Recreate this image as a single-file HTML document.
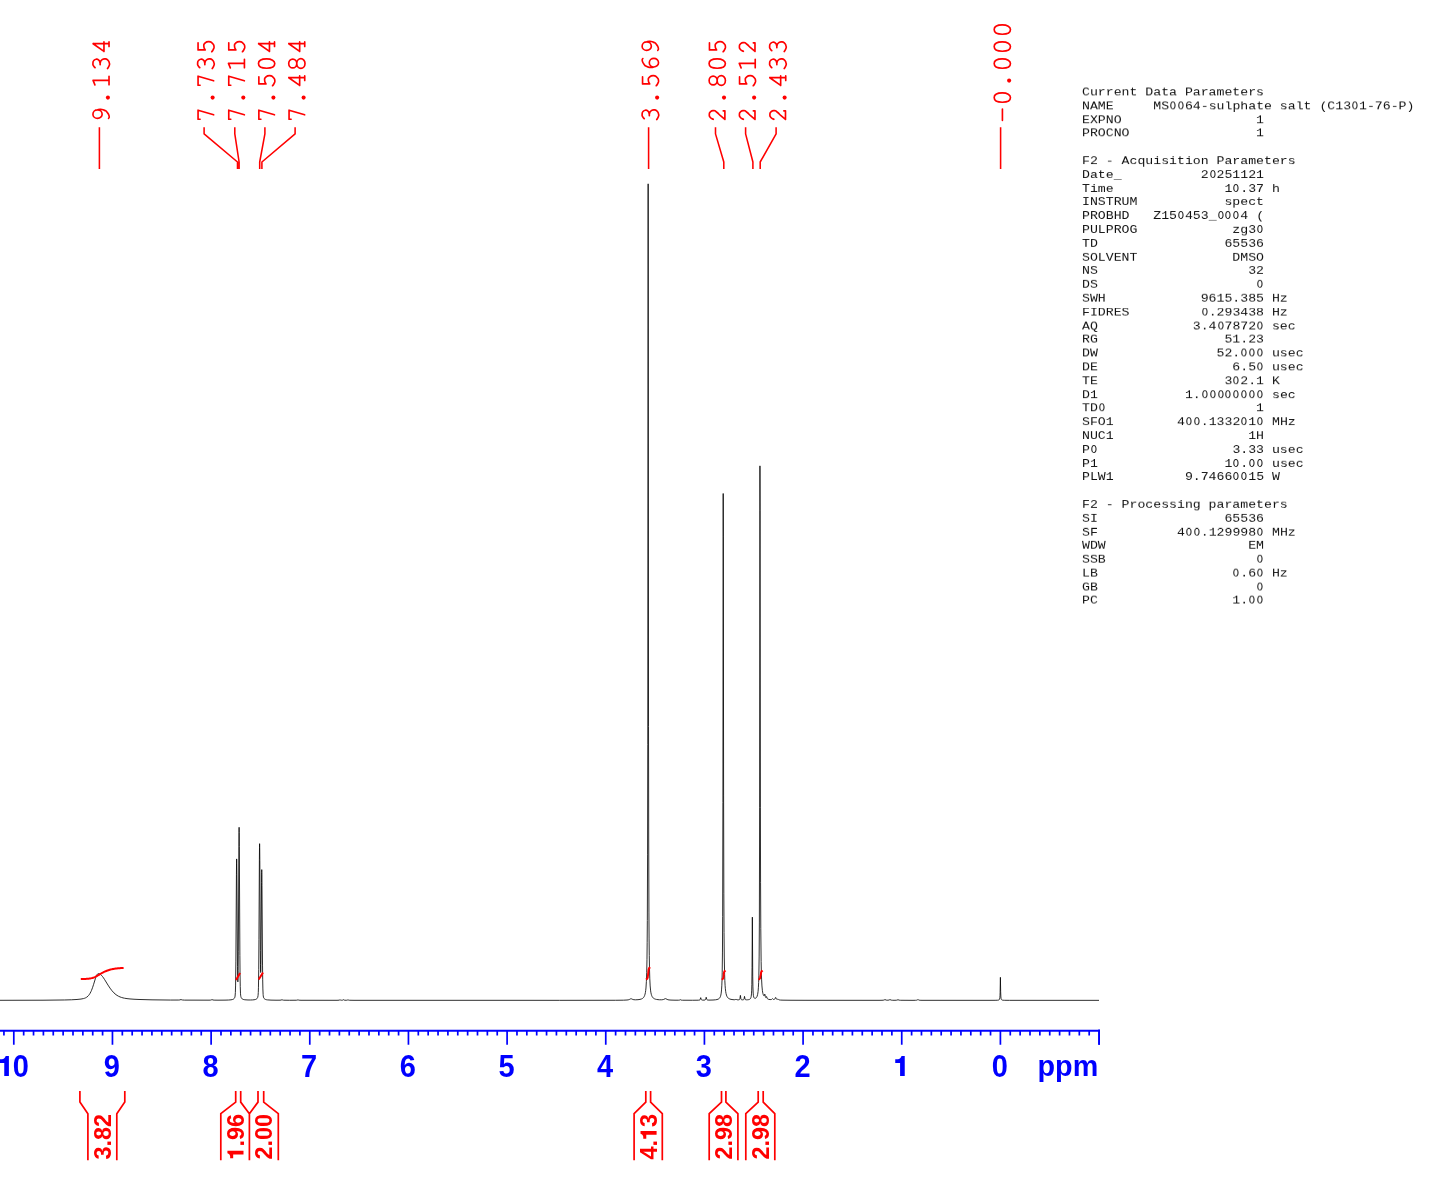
<!DOCTYPE html>
<html><head><meta charset="utf-8"><title>NMR 1H spectrum</title>
<style>
html,body{margin:0;padding:0;background:#fff;}
body{width:1445px;height:1180px;position:relative;overflow:hidden;font-family:"Liberation Sans",sans-serif;}
svg{position:absolute;left:0;top:0;will-change:transform;}
.ax{font-family:"Liberation Sans",sans-serif;font-weight:bold;font-size:30.4px;fill:#0000ff;}
.pk{font-family:"Liberation Mono",monospace;font-size:28.3px;fill:#ff0000;}
.it{font-family:"Liberation Sans",sans-serif;font-weight:bold;font-size:23.5px;fill:#ff0000;}
pre{position:absolute;left:1081.8px;top:85.6px;margin:0;will-change:transform;font-family:"Liberation Mono",monospace;font-size:13.2px;line-height:15.797px;color:#111;letter-spacing:0px;transform:translateY(-0.2px) scaleY(0.87);transform-origin:0 0;}
.z{display:inline-block;transform:scaleX(0.8);}
</style></head>
<body>
<svg width="1445" height="1180" viewBox="0 0 1445 1180">
<path d="M0.00 1000.30 43.00 1000.21 64.50 999.98 71.50 999.78 77.00 999.47 81.00 999.06 83.50 998.57 84.50 998.27 85.50 997.87 86.50 997.32 87.00 996.98 88.00 996.11 88.50 995.57 89.50 994.24 90.00 993.43 91.00 991.49 91.50 990.36 92.50 987.74 93.50 984.70 95.50 978.20 96.50 975.59 97.00 974.67 97.50 974.03 98.00 973.67 98.50 973.54 99.00 973.58 99.50 973.77 100.50 974.42 101.50 975.36 102.50 976.53 103.50 977.89 104.50 979.40 108.00 985.09 110.00 988.12 112.00 990.76 114.00 992.93 115.00 993.85 116.00 994.65 117.00 995.35 118.50 996.22 120.00 996.91 121.50 997.45 123.00 997.88 124.50 998.21 127.00 998.61 130.00 998.94 134.00 999.24 139.00 999.48 152.00 999.84 170.50 1000.05 178.80 1000.04 179.90 999.91 181.00 999.52 181.90 999.86 182.40 999.98 184.50 1000.11 209.00 1000.17 210.20 1000.13 210.90 1000.04 211.30 999.90 212.00 999.50 212.90 999.98 214.10 1000.14 218.00 1000.18 225.00 1000.13 228.50 1000.02 231.03 999.82 232.61 999.49 233.19 999.26 233.67 998.97 234.20 998.47 234.61 997.83 234.89 997.09 235.09 996.10 235.37 992.54 235.57 985.96 235.88 961.11 236.43 874.74 236.54 863.17 236.65 858.91 236.75 862.20 236.86 872.90 237.50 966.64 237.74 980.42 237.86 981.86 237.98 979.80 238.15 970.31 238.32 951.86 238.88 846.17 238.99 832.24 239.10 827.29 239.21 832.47 239.32 846.64 239.89 955.40 240.06 974.43 240.25 986.58 240.48 993.21 240.63 995.14 240.82 996.41 241.12 997.43 241.57 998.26 242.16 998.88 242.92 999.31 243.76 999.58 244.84 999.77 248.00 999.97 250.50 999.99 252.50 999.92 254.04 999.78 255.20 999.57 255.86 999.35 256.41 999.07 256.86 998.71 257.24 998.26 257.55 997.72 257.78 997.10 258.09 995.38 258.29 992.53 258.45 987.79 258.72 969.69 258.95 939.26 259.39 859.79 259.50 847.60 259.60 843.67 259.71 848.09 259.82 860.60 260.35 950.65 260.49 964.66 260.62 971.38 260.70 972.52 260.79 971.13 260.97 960.16 261.54 882.33 261.65 872.55 261.76 869.62 261.87 874.28 261.98 885.50 262.53 965.10 262.70 979.82 262.88 988.96 263.11 994.41 263.25 995.93 263.44 997.03 263.73 997.87 264.15 998.53 264.70 999.05 265.41 999.42 266.29 999.69 267.43 999.88 271.00 1000.12 276.00 1000.21 280.00 1000.20 281.10 1000.07 282.00 999.66 282.80 1000.04 283.60 1000.19 289.50 1000.27 296.30 1000.23 297.10 1000.14 298.00 999.79 298.70 1000.08 299.10 1000.18 301.00 1000.28 337.00 1000.30 339.00 1000.19 339.40 1000.06 340.00 999.70 340.60 1000.05 340.90 1000.15 341.50 1000.22 342.30 1000.20 342.80 1000.09 343.50 999.70 344.20 1000.10 345.00 1000.24 346.20 1000.25 347.00 1000.19 347.40 1000.06 348.00 999.71 348.70 1000.11 349.30 1000.24 354.00 1000.32 559.50 1000.33 615.50 1000.27 623.50 1000.18 627.00 1000.01 628.10 999.86 628.90 999.66 629.50 999.42 630.60 998.82 631.00 998.73 631.50 998.84 632.80 999.46 633.90 999.71 635.50 999.80 638.00 999.69 640.00 999.39 641.50 998.95 642.15 998.65 642.69 998.31 643.17 997.91 643.61 997.43 644.17 996.57 644.65 995.48 645.07 994.08 645.41 992.46 645.71 990.43 645.97 987.98 646.39 981.54 646.71 972.58 646.97 959.69 647.17 942.71 647.33 920.45 647.57 854.89 647.75 744.74 648.15 183.82 648.53 726.39 648.69 837.01 648.93 912.95 649.09 938.08 649.27 955.47 649.50 968.91 649.79 978.76 650.17 985.98 650.65 990.90 650.95 992.79 651.29 994.32 651.69 995.58 652.17 996.64 652.63 997.35 653.17 997.95 653.79 998.43 654.50 998.82 655.50 999.19 656.50 999.43 658.00 999.65 659.50 999.77 661.50 999.79 662.90 999.64 663.70 999.42 665.00 998.75 665.50 998.63 665.90 998.73 667.10 999.41 668.00 999.74 669.00 999.93 671.00 1000.09 675.00 1000.20 678.60 1000.19 679.50 1000.07 680.30 999.65 680.90 1000.00 681.20 1000.11 682.50 1000.22 692.50 1000.26 698.40 1000.19 699.50 1000.04 699.80 999.90 700.00 999.72 700.30 999.11 700.60 997.83 700.70 997.64 700.80 997.83 701.10 999.11 701.30 999.57 701.50 999.81 701.80 999.99 702.30 1000.10 704.00 1000.13 705.00 999.97 705.30 999.81 705.50 999.60 705.80 998.90 706.10 997.42 706.20 997.20 706.30 997.42 706.70 999.21 706.90 999.59 707.30 999.91 707.90 1000.06 708.90 1000.11 713.00 1000.02 715.50 999.81 717.00 999.55 718.20 999.14 719.10 998.57 719.50 998.18 719.84 997.73 720.40 996.61 720.84 995.11 721.20 993.11 721.54 989.92 721.80 985.83 722.02 980.17 722.20 972.70 722.46 952.06 722.66 916.70 722.90 802.52 723.20 493.49 723.30 536.12 723.60 795.05 723.84 893.85 724.04 932.54 724.28 957.02 724.62 974.33 724.84 980.57 725.12 985.75 725.36 988.74 725.66 991.34 726.02 993.45 726.44 995.09 726.94 996.38 727.54 997.38 728.28 998.16 729.18 998.74 730.00 999.09 731.00 999.37 733.00 999.67 734.20 999.75 735.00 999.69 735.40 999.55 736.00 999.10 736.60 999.59 737.10 999.79 738.20 999.87 739.10 999.75 739.40 999.61 739.60 999.43 739.90 998.78 740.40 995.40 740.90 998.79 741.20 999.43 741.50 999.68 741.80 999.79 742.40 999.86 743.10 999.81 743.50 999.68 743.80 999.42 744.10 998.69 744.50 996.38 745.00 999.02 745.30 999.52 745.80 999.76 746.53 999.83 747.57 999.79 748.53 999.66 749.29 999.46 749.81 999.21 750.21 998.89 750.55 998.45 750.81 997.92 751.03 997.22 751.21 996.34 751.49 993.86 751.69 990.16 751.85 984.33 752.05 967.55 752.35 917.17 752.73 976.13 752.91 986.83 753.17 993.08 753.39 995.37 753.69 996.91 753.89 997.47 754.11 997.86 754.39 998.14 754.71 998.30 755.15 998.33 755.63 998.18 756.09 997.87 756.50 997.42 756.85 996.85 757.15 996.16 757.65 994.34 758.07 991.55 758.39 987.78 758.65 982.53 758.85 975.87 759.15 956.04 759.37 922.05 759.63 807.81 759.95 465.85 760.05 510.79 760.39 807.81 760.57 882.21 760.79 928.73 761.13 961.41 761.35 972.03 761.61 979.84 761.95 985.97 762.37 990.35 762.63 992.10 762.93 993.55 763.27 994.71 763.63 995.49 763.93 995.80 764.07 995.81 764.19 995.71 764.39 995.28 764.69 994.19 764.80 994.09 764.93 994.48 765.33 996.55 765.67 997.38 765.89 997.56 766.10 997.48 766.50 996.60 766.60 996.53 767.10 998.13 767.40 998.67 767.90 999.07 768.70 999.36 770.10 999.58 771.20 999.54 771.50 999.46 771.80 999.28 772.30 998.73 772.50 998.61 772.70 998.73 773.10 999.20 773.40 999.40 773.80 999.50 774.20 999.45 774.50 999.30 774.80 998.99 775.00 998.64 775.40 997.62 775.60 997.36 775.80 997.62 776.30 998.84 776.50 999.13 776.80 999.36 777.10 999.42 777.30 999.38 777.80 999.03 778.00 998.96 778.20 999.09 778.80 999.69 779.40 999.93 780.60 1000.08 783.00 1000.17 791.00 1000.26 807.00 1000.31 879.00 1000.32 882.00 1000.28 883.20 1000.21 884.00 1000.05 884.80 999.66 885.00 999.62 886.30 1000.11 887.10 1000.20 888.10 1000.19 889.00 1000.03 889.80 999.66 890.00 999.62 891.30 1000.13 892.80 1000.27 895.00 1000.28 896.30 1000.22 897.00 1000.09 898.00 999.73 899.20 1000.15 900.50 1000.28 913.00 1000.33 915.50 1000.29 916.60 1000.20 917.20 1000.02 917.80 999.53 918.00 999.44 918.20 999.53 918.70 999.96 919.20 1000.16 920.10 1000.27 922.00 1000.32 989.00 1000.34 995.08 1000.31 997.52 1000.23 998.60 1000.06 998.96 999.91 999.22 999.70 999.44 999.39 999.60 998.99 999.84 997.74 1000.00 995.74 1000.12 992.57 1000.40 977.33 1000.66 991.79 1000.88 996.94 1001.06 998.41 1001.32 999.31 1001.50 999.61 1001.72 999.83 1002.38 1000.11 1003.12 1000.22 1004.30 1000.29 1009.50 1000.33 1099.00 1000.35" stroke="#000" stroke-width="0.82" fill="none" stroke-linejoin="round"/>
<path d="M0 1030.65H1099.9" stroke="#0000ff" stroke-width="2.0" fill="none"/>
<path d="M1099.06 1030.7V1044.7M1089.19 1030.7V1035.4M1079.33 1030.7V1035.4M1069.46 1030.7V1035.4M1059.60 1030.7V1035.4M1049.73 1030.7V1035.4M1039.86 1030.7V1035.4M1030.00 1030.7V1035.4M1020.13 1030.7V1035.4M1010.27 1030.7V1035.4M1000.40 1030.7V1044.7M990.53 1030.7V1035.4M980.67 1030.7V1035.4M970.80 1030.7V1035.4M960.94 1030.7V1035.4M951.07 1030.7V1035.4M941.20 1030.7V1035.4M931.34 1030.7V1035.4M921.47 1030.7V1035.4M911.61 1030.7V1035.4M901.74 1030.7V1044.7M891.87 1030.7V1035.4M882.01 1030.7V1035.4M872.14 1030.7V1035.4M862.28 1030.7V1035.4M852.41 1030.7V1035.4M842.54 1030.7V1035.4M832.68 1030.7V1035.4M822.81 1030.7V1035.4M812.95 1030.7V1035.4M803.08 1030.7V1044.7M793.21 1030.7V1035.4M783.35 1030.7V1035.4M773.48 1030.7V1035.4M763.62 1030.7V1035.4M753.75 1030.7V1035.4M743.88 1030.7V1035.4M734.02 1030.7V1035.4M724.15 1030.7V1035.4M714.29 1030.7V1035.4M704.42 1030.7V1044.7M694.55 1030.7V1035.4M684.69 1030.7V1035.4M674.82 1030.7V1035.4M664.96 1030.7V1035.4M655.09 1030.7V1035.4M645.22 1030.7V1035.4M635.36 1030.7V1035.4M625.49 1030.7V1035.4M615.63 1030.7V1035.4M605.76 1030.7V1044.7M595.89 1030.7V1035.4M586.03 1030.7V1035.4M576.16 1030.7V1035.4M566.30 1030.7V1035.4M556.43 1030.7V1035.4M546.56 1030.7V1035.4M536.70 1030.7V1035.4M526.83 1030.7V1035.4M516.97 1030.7V1035.4M507.10 1030.7V1044.7M497.23 1030.7V1035.4M487.37 1030.7V1035.4M477.50 1030.7V1035.4M467.64 1030.7V1035.4M457.77 1030.7V1035.4M447.90 1030.7V1035.4M438.04 1030.7V1035.4M428.17 1030.7V1035.4M418.31 1030.7V1035.4M408.44 1030.7V1044.7M398.57 1030.7V1035.4M388.71 1030.7V1035.4M378.84 1030.7V1035.4M368.98 1030.7V1035.4M359.11 1030.7V1035.4M349.24 1030.7V1035.4M339.38 1030.7V1035.4M329.51 1030.7V1035.4M319.65 1030.7V1035.4M309.78 1030.7V1044.7M299.91 1030.7V1035.4M290.05 1030.7V1035.4M280.18 1030.7V1035.4M270.32 1030.7V1035.4M260.45 1030.7V1035.4M250.58 1030.7V1035.4M240.72 1030.7V1035.4M230.85 1030.7V1035.4M220.99 1030.7V1035.4M211.12 1030.7V1044.7M201.25 1030.7V1035.4M191.39 1030.7V1035.4M181.52 1030.7V1035.4M171.66 1030.7V1035.4M161.79 1030.7V1035.4M151.92 1030.7V1035.4M142.06 1030.7V1035.4M132.19 1030.7V1035.4M122.33 1030.7V1035.4M112.46 1030.7V1044.7M102.59 1030.7V1035.4M92.73 1030.7V1035.4M82.86 1030.7V1035.4M73.00 1030.7V1035.4M63.13 1030.7V1035.4M53.26 1030.7V1035.4M43.40 1030.7V1035.4M33.53 1030.7V1035.4M23.67 1030.7V1035.4M13.80 1030.7V1044.7M3.93 1030.7V1035.4" stroke="#0000ff" stroke-width="1.7" fill="none"/>
<path d="M1099.1 1029.6V1044.7" stroke="#0000ff" stroke-width="1.7" fill="none"/>
<text transform="translate(999.80 1076.8) scale(0.945 1)" class="ax" style="font-size:30.7px" text-anchor="middle">0</text>
<path d="M3 -20.1H-0.2C-0.8 -18.2 -2 -16.9 -4 -16.7H-6.5V-12.9H-1.65V0H3Z" fill="#0000ff" transform="translate(901.74 1076.0)"/>
<text transform="translate(802.48 1076.8) scale(0.945 1)" class="ax" style="font-size:30.7px" text-anchor="middle">2</text>
<text transform="translate(703.82 1076.8) scale(0.945 1)" class="ax" style="font-size:30.7px" text-anchor="middle">3</text>
<text transform="translate(605.16 1076.8) scale(0.945 1)" class="ax" style="font-size:30.7px" text-anchor="middle">4</text>
<text transform="translate(506.50 1076.8) scale(0.945 1)" class="ax" style="font-size:30.7px" text-anchor="middle">5</text>
<text transform="translate(407.84 1076.8) scale(0.945 1)" class="ax" style="font-size:30.7px" text-anchor="middle">6</text>
<text transform="translate(309.18 1076.8) scale(0.945 1)" class="ax" style="font-size:30.7px" text-anchor="middle">7</text>
<text transform="translate(210.52 1076.8) scale(0.945 1)" class="ax" style="font-size:30.7px" text-anchor="middle">8</text>
<text transform="translate(111.86 1076.8) scale(0.945 1)" class="ax" style="font-size:30.7px" text-anchor="middle">9</text>
<path d="M3 -20.1H-0.2C-0.8 -18.2 -2 -16.9 -4 -16.7H-6.5V-12.9H-1.65V0H3Z" fill="#0000ff" transform="translate(5.90 1076.0)"/>
<text transform="translate(20.70 1076.8) scale(0.945 1)" class="ax" style="font-size:30.7px" text-anchor="middle">0</text>
<text transform="translate(1098.2 1076.2) scale(0.945 1)" class="ax" text-anchor="end">ppm</text>
<g fill="none" stroke="#ff0000" stroke-width="1.7" stroke-linecap="round" stroke-linejoin="round"><path d="M4.84 1.30C5.54 1.10 5.04 0.30 6.94 0.70C8.84 1.10 8.57 0.93 10.54 2.50C12.51 4.07 11.77 3.10 12.84 5.40C13.91 7.70 13.57 6.97 13.74 9.40C13.91 11.83 13.47 11.60 13.34 12.70M9.04 17.45C11.41 17.45 13.34 15.32 13.34 12.70C13.34 10.08 11.41 7.95 9.04 7.95C6.67 7.95 4.74 10.08 4.74 12.70C4.74 15.32 6.67 17.45 9.04 17.45Z" transform="translate(109.85 123.20) rotate(-90) scale(1 -0.97) translate(0.00 0)"/><path d="M8.8 17.3V0.85M4.5 0.85H12.9M8.8 17.3L4.3 15.4" transform="translate(109.85 123.20) rotate(-90) scale(1 -0.97) translate(34.00 0)"/><path d="M4.50 15.20C5.17 15.78 4.97 16.22 6.50 16.95C8.03 17.68 7.37 17.55 9.10 17.40C10.83 17.25 10.40 17.67 11.70 16.50C13.00 15.33 12.87 15.57 13.00 13.90C13.13 12.23 13.10 12.70 12.10 11.50C11.10 10.30 11.53 10.80 10.00 10.30C8.47 9.80 8.33 10.10 7.50 10.00M7.50 10.00C8.33 9.92 8.40 10.35 10.00 9.75C11.60 9.15 11.18 9.75 12.30 8.20C13.42 6.65 13.42 7.13 13.35 5.10C13.28 3.07 13.45 3.60 12.10 2.10C10.75 0.60 11.07 1.08 9.30 0.60C7.53 0.12 8.67 0.05 6.80 0.65C4.93 1.25 4.73 1.82 3.70 2.40" transform="translate(109.85 123.20) rotate(-90) scale(1 -0.97) translate(51.00 0)"/><path d="M11.5 17.25V0.85M8.8 0.85H13.3M3.8 6.07H13.3M11.5 17.25L3.8 6.07" transform="translate(109.85 123.20) rotate(-90) scale(1 -0.97) translate(68.00 0)"/></g><g fill="#ff0000"><circle cx="8.6" cy="2.0" r="2.1" transform="translate(109.85 123.20) rotate(-90) scale(1 -0.97) translate(17.00 0)"/></g>
<g fill="none" stroke="#ff0000" stroke-width="1.7" stroke-linecap="round" stroke-linejoin="round"><path d="M3.95 14.9L4.0 17H13.0L8.4 0.9" transform="translate(214.55 123.20) rotate(-90) scale(1 -0.97) translate(0.00 0)"/><path d="M3.95 14.9L4.0 17H13.0L8.4 0.9" transform="translate(214.55 123.20) rotate(-90) scale(1 -0.97) translate(34.00 0)"/><path d="M4.50 15.20C5.17 15.78 4.97 16.22 6.50 16.95C8.03 17.68 7.37 17.55 9.10 17.40C10.83 17.25 10.40 17.67 11.70 16.50C13.00 15.33 12.87 15.57 13.00 13.90C13.13 12.23 13.10 12.70 12.10 11.50C11.10 10.30 11.53 10.80 10.00 10.30C8.47 9.80 8.33 10.10 7.50 10.00M7.50 10.00C8.33 9.92 8.40 10.35 10.00 9.75C11.60 9.15 11.18 9.75 12.30 8.20C13.42 6.65 13.42 7.13 13.35 5.10C13.28 3.07 13.45 3.60 12.10 2.10C10.75 0.60 11.07 1.08 9.30 0.60C7.53 0.12 8.67 0.05 6.80 0.65C4.93 1.25 4.73 1.82 3.70 2.40" transform="translate(214.55 123.20) rotate(-90) scale(1 -0.97) translate(51.00 0)"/><path d="M12.4 17H5.3V9.7C6.50 10.15 6.67 11.00 8.90 11.05C11.13 11.10 10.45 11.48 12.00 9.85C13.55 8.22 13.55 8.63 13.55 6.15C13.55 3.67 13.62 4.27 12.00 2.40C10.38 0.53 10.87 0.88 8.70 0.55C6.53 0.22 7.23 0.62 5.50 1.40C3.77 2.18 4.17 2.40 3.50 2.90" transform="translate(214.55 123.20) rotate(-90) scale(1 -0.97) translate(68.00 0)"/></g><g fill="#ff0000"><circle cx="8.6" cy="2.0" r="2.1" transform="translate(214.55 123.20) rotate(-90) scale(1 -0.97) translate(17.00 0)"/></g>
<g fill="none" stroke="#ff0000" stroke-width="1.7" stroke-linecap="round" stroke-linejoin="round"><path d="M3.95 14.9L4.0 17H13.0L8.4 0.9" transform="translate(245.25 123.20) rotate(-90) scale(1 -0.97) translate(0.00 0)"/><path d="M3.95 14.9L4.0 17H13.0L8.4 0.9" transform="translate(245.25 123.20) rotate(-90) scale(1 -0.97) translate(34.00 0)"/><path d="M8.8 17.3V0.85M4.5 0.85H12.9M8.8 17.3L4.3 15.4" transform="translate(245.25 123.20) rotate(-90) scale(1 -0.97) translate(51.00 0)"/><path d="M12.4 17H5.3V9.7C6.50 10.15 6.67 11.00 8.90 11.05C11.13 11.10 10.45 11.48 12.00 9.85C13.55 8.22 13.55 8.63 13.55 6.15C13.55 3.67 13.62 4.27 12.00 2.40C10.38 0.53 10.87 0.88 8.70 0.55C6.53 0.22 7.23 0.62 5.50 1.40C3.77 2.18 4.17 2.40 3.50 2.90" transform="translate(245.25 123.20) rotate(-90) scale(1 -0.97) translate(68.00 0)"/></g><g fill="#ff0000"><circle cx="8.6" cy="2.0" r="2.1" transform="translate(245.25 123.20) rotate(-90) scale(1 -0.97) translate(17.00 0)"/></g>
<g fill="none" stroke="#ff0000" stroke-width="1.7" stroke-linecap="round" stroke-linejoin="round"><path d="M3.95 14.9L4.0 17H13.0L8.4 0.9" transform="translate(275.35 123.20) rotate(-90) scale(1 -0.97) translate(0.00 0)"/><path d="M12.4 17H5.3V9.7C6.50 10.15 6.67 11.00 8.90 11.05C11.13 11.10 10.45 11.48 12.00 9.85C13.55 8.22 13.55 8.63 13.55 6.15C13.55 3.67 13.62 4.27 12.00 2.40C10.38 0.53 10.87 0.88 8.70 0.55C6.53 0.22 7.23 0.62 5.50 1.40C3.77 2.18 4.17 2.40 3.50 2.90" transform="translate(275.35 123.20) rotate(-90) scale(1 -0.97) translate(34.00 0)"/><path d="M8.65 17.40C11.47 17.40 13.35 14.04 13.35 9.00C13.35 3.96 11.47 0.60 8.65 0.60C5.83 0.60 3.95 3.96 3.95 9.00C3.95 14.04 5.83 17.40 8.65 17.40Z" transform="translate(275.35 123.20) rotate(-90) scale(1 -0.97) translate(51.00 0)"/><path d="M11.5 17.25V0.85M8.8 0.85H13.3M3.8 6.07H13.3M11.5 17.25L3.8 6.07" transform="translate(275.35 123.20) rotate(-90) scale(1 -0.97) translate(68.00 0)"/></g><g fill="#ff0000"><circle cx="8.6" cy="2.0" r="2.1" transform="translate(275.35 123.20) rotate(-90) scale(1 -0.97) translate(17.00 0)"/></g>
<g fill="none" stroke="#ff0000" stroke-width="1.7" stroke-linecap="round" stroke-linejoin="round"><path d="M3.95 14.9L4.0 17H13.0L8.4 0.9" transform="translate(305.55 123.20) rotate(-90) scale(1 -0.97) translate(0.00 0)"/><path d="M11.5 17.25V0.85M8.8 0.85H13.3M3.8 6.07H13.3M11.5 17.25L3.8 6.07" transform="translate(305.55 123.20) rotate(-90) scale(1 -0.97) translate(34.00 0)"/><path d="M8.70 17.35C11.16 17.35 13.15 15.49 13.15 13.20C13.15 10.91 11.16 9.05 8.70 9.05C6.24 9.05 4.25 10.91 4.25 13.20C4.25 15.49 6.24 17.35 8.70 17.35ZM8.70 9.05C11.35 9.05 13.50 7.15 13.50 4.80C13.50 2.45 11.35 0.55 8.70 0.55C6.05 0.55 3.90 2.45 3.90 4.80C3.90 7.15 6.05 9.05 8.70 9.05Z" transform="translate(305.55 123.20) rotate(-90) scale(1 -0.97) translate(51.00 0)"/><path d="M11.5 17.25V0.85M8.8 0.85H13.3M3.8 6.07H13.3M11.5 17.25L3.8 6.07" transform="translate(305.55 123.20) rotate(-90) scale(1 -0.97) translate(68.00 0)"/></g><g fill="#ff0000"><circle cx="8.6" cy="2.0" r="2.1" transform="translate(305.55 123.20) rotate(-90) scale(1 -0.97) translate(17.00 0)"/></g>
<g fill="none" stroke="#ff0000" stroke-width="1.7" stroke-linecap="round" stroke-linejoin="round"><path d="M4.50 15.20C5.17 15.78 4.97 16.22 6.50 16.95C8.03 17.68 7.37 17.55 9.10 17.40C10.83 17.25 10.40 17.67 11.70 16.50C13.00 15.33 12.87 15.57 13.00 13.90C13.13 12.23 13.10 12.70 12.10 11.50C11.10 10.30 11.53 10.80 10.00 10.30C8.47 9.80 8.33 10.10 7.50 10.00M7.50 10.00C8.33 9.92 8.40 10.35 10.00 9.75C11.60 9.15 11.18 9.75 12.30 8.20C13.42 6.65 13.42 7.13 13.35 5.10C13.28 3.07 13.45 3.60 12.10 2.10C10.75 0.60 11.07 1.08 9.30 0.60C7.53 0.12 8.67 0.05 6.80 0.65C4.93 1.25 4.73 1.82 3.70 2.40" transform="translate(659.05 123.20) rotate(-90) scale(1 -0.97) translate(0.00 0)"/><path d="M12.4 17H5.3V9.7C6.50 10.15 6.67 11.00 8.90 11.05C11.13 11.10 10.45 11.48 12.00 9.85C13.55 8.22 13.55 8.63 13.55 6.15C13.55 3.67 13.62 4.27 12.00 2.40C10.38 0.53 10.87 0.88 8.70 0.55C6.53 0.22 7.23 0.62 5.50 1.40C3.77 2.18 4.17 2.40 3.50 2.90" transform="translate(659.05 123.20) rotate(-90) scale(1 -0.97) translate(34.00 0)"/><path d="M13.70 16.70C13.00 16.90 13.50 17.70 11.60 17.30C9.70 16.90 9.97 17.07 8.00 15.50C6.03 13.93 6.77 14.90 5.70 12.60C4.63 10.30 4.97 11.03 4.80 8.60C4.63 6.17 5.07 6.40 5.20 5.30M9.50 10.05C11.87 10.05 13.80 7.92 13.80 5.30C13.80 2.68 11.87 0.55 9.50 0.55C7.13 0.55 5.20 2.68 5.20 5.30C5.20 7.92 7.13 10.05 9.50 10.05Z" transform="translate(659.05 123.20) rotate(-90) scale(1 -0.97) translate(51.00 0)"/><path d="M4.84 1.30C5.54 1.10 5.04 0.30 6.94 0.70C8.84 1.10 8.57 0.93 10.54 2.50C12.51 4.07 11.77 3.10 12.84 5.40C13.91 7.70 13.57 6.97 13.74 9.40C13.91 11.83 13.47 11.60 13.34 12.70M9.04 17.45C11.41 17.45 13.34 15.32 13.34 12.70C13.34 10.08 11.41 7.95 9.04 7.95C6.67 7.95 4.74 10.08 4.74 12.70C4.74 15.32 6.67 17.45 9.04 17.45Z" transform="translate(659.05 123.20) rotate(-90) scale(1 -0.97) translate(68.00 0)"/></g><g fill="#ff0000"><circle cx="8.6" cy="2.0" r="2.1" transform="translate(659.05 123.20) rotate(-90) scale(1 -0.97) translate(17.00 0)"/></g>
<g fill="none" stroke="#ff0000" stroke-width="1.7" stroke-linecap="round" stroke-linejoin="round"><path d="M3.90 13.10C4.50 14.10 4.10 14.75 5.70 16.10C7.30 17.45 6.77 17.22 8.70 17.15C10.63 17.08 10.20 17.35 11.50 15.90C12.80 14.45 12.70 14.83 12.60 12.80C12.50 10.77 12.73 11.97 11.20 9.80C9.67 7.63 9.07 7.47 8.00 6.30L3.8 1.1H12.4V2.8" transform="translate(725.95 123.20) rotate(-90) scale(1 -0.97) translate(0.00 0)"/><path d="M8.70 17.35C11.16 17.35 13.15 15.49 13.15 13.20C13.15 10.91 11.16 9.05 8.70 9.05C6.24 9.05 4.25 10.91 4.25 13.20C4.25 15.49 6.24 17.35 8.70 17.35ZM8.70 9.05C11.35 9.05 13.50 7.15 13.50 4.80C13.50 2.45 11.35 0.55 8.70 0.55C6.05 0.55 3.90 2.45 3.90 4.80C3.90 7.15 6.05 9.05 8.70 9.05Z" transform="translate(725.95 123.20) rotate(-90) scale(1 -0.97) translate(34.00 0)"/><path d="M8.65 17.40C11.47 17.40 13.35 14.04 13.35 9.00C13.35 3.96 11.47 0.60 8.65 0.60C5.83 0.60 3.95 3.96 3.95 9.00C3.95 14.04 5.83 17.40 8.65 17.40Z" transform="translate(725.95 123.20) rotate(-90) scale(1 -0.97) translate(51.00 0)"/><path d="M12.4 17H5.3V9.7C6.50 10.15 6.67 11.00 8.90 11.05C11.13 11.10 10.45 11.48 12.00 9.85C13.55 8.22 13.55 8.63 13.55 6.15C13.55 3.67 13.62 4.27 12.00 2.40C10.38 0.53 10.87 0.88 8.70 0.55C6.53 0.22 7.23 0.62 5.50 1.40C3.77 2.18 4.17 2.40 3.50 2.90" transform="translate(725.95 123.20) rotate(-90) scale(1 -0.97) translate(68.00 0)"/></g><g fill="#ff0000"><circle cx="8.6" cy="2.0" r="2.1" transform="translate(725.95 123.20) rotate(-90) scale(1 -0.97) translate(17.00 0)"/></g>
<g fill="none" stroke="#ff0000" stroke-width="1.7" stroke-linecap="round" stroke-linejoin="round"><path d="M3.90 13.10C4.50 14.10 4.10 14.75 5.70 16.10C7.30 17.45 6.77 17.22 8.70 17.15C10.63 17.08 10.20 17.35 11.50 15.90C12.80 14.45 12.70 14.83 12.60 12.80C12.50 10.77 12.73 11.97 11.20 9.80C9.67 7.63 9.07 7.47 8.00 6.30L3.8 1.1H12.4V2.8" transform="translate(756.05 123.20) rotate(-90) scale(1 -0.97) translate(0.00 0)"/><path d="M12.4 17H5.3V9.7C6.50 10.15 6.67 11.00 8.90 11.05C11.13 11.10 10.45 11.48 12.00 9.85C13.55 8.22 13.55 8.63 13.55 6.15C13.55 3.67 13.62 4.27 12.00 2.40C10.38 0.53 10.87 0.88 8.70 0.55C6.53 0.22 7.23 0.62 5.50 1.40C3.77 2.18 4.17 2.40 3.50 2.90" transform="translate(756.05 123.20) rotate(-90) scale(1 -0.97) translate(34.00 0)"/><path d="M8.8 17.3V0.85M4.5 0.85H12.9M8.8 17.3L4.3 15.4" transform="translate(756.05 123.20) rotate(-90) scale(1 -0.97) translate(51.00 0)"/><path d="M3.90 13.10C4.50 14.10 4.10 14.75 5.70 16.10C7.30 17.45 6.77 17.22 8.70 17.15C10.63 17.08 10.20 17.35 11.50 15.90C12.80 14.45 12.70 14.83 12.60 12.80C12.50 10.77 12.73 11.97 11.20 9.80C9.67 7.63 9.07 7.47 8.00 6.30L3.8 1.1H12.4V2.8" transform="translate(756.05 123.20) rotate(-90) scale(1 -0.97) translate(68.00 0)"/></g><g fill="#ff0000"><circle cx="8.6" cy="2.0" r="2.1" transform="translate(756.05 123.20) rotate(-90) scale(1 -0.97) translate(17.00 0)"/></g>
<g fill="none" stroke="#ff0000" stroke-width="1.7" stroke-linecap="round" stroke-linejoin="round"><path d="M3.90 13.10C4.50 14.10 4.10 14.75 5.70 16.10C7.30 17.45 6.77 17.22 8.70 17.15C10.63 17.08 10.20 17.35 11.50 15.90C12.80 14.45 12.70 14.83 12.60 12.80C12.50 10.77 12.73 11.97 11.20 9.80C9.67 7.63 9.07 7.47 8.00 6.30L3.8 1.1H12.4V2.8" transform="translate(786.55 123.20) rotate(-90) scale(1 -0.97) translate(0.00 0)"/><path d="M11.5 17.25V0.85M8.8 0.85H13.3M3.8 6.07H13.3M11.5 17.25L3.8 6.07" transform="translate(786.55 123.20) rotate(-90) scale(1 -0.97) translate(34.00 0)"/><path d="M4.50 15.20C5.17 15.78 4.97 16.22 6.50 16.95C8.03 17.68 7.37 17.55 9.10 17.40C10.83 17.25 10.40 17.67 11.70 16.50C13.00 15.33 12.87 15.57 13.00 13.90C13.13 12.23 13.10 12.70 12.10 11.50C11.10 10.30 11.53 10.80 10.00 10.30C8.47 9.80 8.33 10.10 7.50 10.00M7.50 10.00C8.33 9.92 8.40 10.35 10.00 9.75C11.60 9.15 11.18 9.75 12.30 8.20C13.42 6.65 13.42 7.13 13.35 5.10C13.28 3.07 13.45 3.60 12.10 2.10C10.75 0.60 11.07 1.08 9.30 0.60C7.53 0.12 8.67 0.05 6.80 0.65C4.93 1.25 4.73 1.82 3.70 2.40" transform="translate(786.55 123.20) rotate(-90) scale(1 -0.97) translate(51.00 0)"/><path d="M4.50 15.20C5.17 15.78 4.97 16.22 6.50 16.95C8.03 17.68 7.37 17.55 9.10 17.40C10.83 17.25 10.40 17.67 11.70 16.50C13.00 15.33 12.87 15.57 13.00 13.90C13.13 12.23 13.10 12.70 12.10 11.50C11.10 10.30 11.53 10.80 10.00 10.30C8.47 9.80 8.33 10.10 7.50 10.00M7.50 10.00C8.33 9.92 8.40 10.35 10.00 9.75C11.60 9.15 11.18 9.75 12.30 8.20C13.42 6.65 13.42 7.13 13.35 5.10C13.28 3.07 13.45 3.60 12.10 2.10C10.75 0.60 11.07 1.08 9.30 0.60C7.53 0.12 8.67 0.05 6.80 0.65C4.93 1.25 4.73 1.82 3.70 2.40" transform="translate(786.55 123.20) rotate(-90) scale(1 -0.97) translate(68.00 0)"/></g><g fill="#ff0000"><circle cx="8.6" cy="2.0" r="2.1" transform="translate(786.55 123.20) rotate(-90) scale(1 -0.97) translate(17.00 0)"/></g>
<g fill="none" stroke="#ff0000" stroke-width="1.7" stroke-linecap="round" stroke-linejoin="round"><path d="M2.9 8.9H14.2" transform="translate(1011.05 123.20) rotate(-90) scale(1 -0.97) translate(0.00 0)"/><path d="M8.65 17.40C11.47 17.40 13.35 14.04 13.35 9.00C13.35 3.96 11.47 0.60 8.65 0.60C5.83 0.60 3.95 3.96 3.95 9.00C3.95 14.04 5.83 17.40 8.65 17.40Z" transform="translate(1011.05 123.20) rotate(-90) scale(1 -0.97) translate(17.00 0)"/><path d="M8.65 17.40C11.47 17.40 13.35 14.04 13.35 9.00C13.35 3.96 11.47 0.60 8.65 0.60C5.83 0.60 3.95 3.96 3.95 9.00C3.95 14.04 5.83 17.40 8.65 17.40Z" transform="translate(1011.05 123.20) rotate(-90) scale(1 -0.97) translate(51.00 0)"/><path d="M8.65 17.40C11.47 17.40 13.35 14.04 13.35 9.00C13.35 3.96 11.47 0.60 8.65 0.60C5.83 0.60 3.95 3.96 3.95 9.00C3.95 14.04 5.83 17.40 8.65 17.40Z" transform="translate(1011.05 123.20) rotate(-90) scale(1 -0.97) translate(68.00 0)"/><path d="M8.65 17.40C11.47 17.40 13.35 14.04 13.35 9.00C13.35 3.96 11.47 0.60 8.65 0.60C5.83 0.60 3.95 3.96 3.95 9.00C3.95 14.04 5.83 17.40 8.65 17.40Z" transform="translate(1011.05 123.20) rotate(-90) scale(1 -0.97) translate(85.00 0)"/></g><g fill="#ff0000"><circle cx="8.6" cy="2.0" r="2.1" transform="translate(1011.05 123.20) rotate(-90) scale(1 -0.97) translate(34.00 0)"/></g>
<path d="M99.4 127.2V133.9L99.4 162V169M204.1 127.2V133.9L237.5 162V169M234.8 127.2V133.9L239.1 162V169M264.9 127.2V133.9L259.7 162V169M295.1 127.2V133.9L261.9 162V169M648.6 127.2V133.9L648.6 162V169M715.5 127.2V133.9L723.8 162V169M745.6 127.2V133.9L752.9 162V169M776.1 127.2V133.9L760.2 162V169M1000.6 127.2V133.9L1000.6 162V169" stroke="#ff0000" stroke-width="1.55" fill="none" stroke-linejoin="round"/>
<g transform="translate(110.8 1159.6) rotate(-90)"><text class="it" x="0.00">3</text><text class="it" x="13.07">.</text><text class="it" x="19.60">8</text><text class="it" x="32.66">2</text></g>
<g transform="translate(243.5 1159.6) rotate(-90)"><path d="M3 -20.1H-0.2C-0.8 -18.2 -2 -16.9 -4 -16.7H-6.5V-12.9H-1.65V0H3Z" fill="#ff0000" transform="translate(6.53 0) scale(0.80)"/><text class="it" x="13.07">.</text><text class="it" x="19.60">9</text><text class="it" x="32.66">6</text></g>
<g transform="translate(272.2 1159.6) rotate(-90)"><text class="it" x="0.00">2</text><text class="it" x="13.07">.</text><text class="it" x="19.60">0</text><text class="it" x="32.66">0</text></g>
<g transform="translate(656.6 1159.6) rotate(-90)"><text class="it" x="0.00">4</text><text class="it" x="13.07">.</text><path d="M3 -20.1H-0.2C-0.8 -18.2 -2 -16.9 -4 -16.7H-6.5V-12.9H-1.65V0H3Z" fill="#ff0000" transform="translate(26.13 0) scale(0.80)"/><text class="it" x="32.66">3</text></g>
<g transform="translate(731.9 1159.6) rotate(-90)"><text class="it" x="0.00">2</text><text class="it" x="13.07">.</text><text class="it" x="19.60">9</text><text class="it" x="32.66">8</text></g>
<g transform="translate(768.7 1159.6) rotate(-90)"><text class="it" x="0.00">2</text><text class="it" x="13.07">.</text><text class="it" x="19.60">9</text><text class="it" x="32.66">8</text></g>
<path d="M79.9 1091V1102.1L87.9 1113.7V1160.2M124.8 1091V1102.1L116.8 1113.7V1160.2M235.7 1091V1102.1L220.8 1113.7V1160.2M240.7 1091V1102.1L249.4 1113.7V1160.2M258.0 1091V1102.1L249.4 1113.7V1160.2M263.7 1091V1102.1L278.3 1113.7V1160.2M645.8 1091V1102.1L634.1 1113.7V1160.2M650.6 1091V1102.1L662.3 1113.7V1160.2M721.5 1091V1102.1L709.2 1113.7V1160.2M725.9 1091V1102.1L737.9 1113.7V1160.2M758.2 1091V1102.1L745.8 1113.7V1160.2M763.2 1091V1102.1L774.8 1113.7V1160.2" stroke="#ff0000" stroke-width="1.7" fill="none" stroke-linejoin="miter"/>
<path d="M80.8 979.10L81.5 979.08L82.3 979.05L83.0 979.03L83.7 979.00L84.4 978.97L85.2 978.93L85.9 978.89L86.6 978.84L87.3 978.79L88.1 978.72L88.8 978.65L89.5 978.55L90.2 978.44L91.0 978.31L91.7 978.15L92.4 977.97L93.1 977.75L93.9 977.49L94.6 977.19L95.3 976.86L96.0 976.48L96.8 976.08L97.5 975.66L98.2 975.23L98.9 974.79L99.7 974.35L100.4 973.92L101.1 973.50L101.8 973.10L102.6 972.70L103.3 972.32L104.0 971.96L104.7 971.62L105.5 971.29L106.2 970.98L106.9 970.70L107.6 970.43L108.4 970.18L109.1 969.95L109.8 969.74L110.5 969.54L111.3 969.37L112.0 969.20L112.7 969.05L113.4 968.92L114.2 968.79L114.9 968.68L115.6 968.58L116.3 968.49L117.1 968.40L117.8 968.32L118.5 968.25L119.2 968.19L120.0 968.13L120.7 968.08L121.4 968.03L122.1 967.98L122.9 967.94L123.6 967.90M236.0 980.0L240.1 973.0M258.7 979.4L263.0 972.4M645.90 979.30C646.38 979.00 646.68 979.53 647.35 978.40C648.02 977.27 647.53 978.30 647.90 975.90C648.27 973.50 648.12 973.63 648.45 971.20C648.78 968.77 648.32 969.93 648.90 968.60C649.48 967.27 649.77 967.67 650.20 967.20M721.60 979.50C722.08 979.20 722.38 979.73 723.05 978.60C723.72 977.47 723.37 977.47 723.60 976.10C723.83 974.73 723.55 975.90 723.75 974.50C723.95 973.10 723.62 973.23 724.20 971.90C724.78 970.57 725.07 970.97 725.50 970.50M758.40 979.50C758.88 979.20 759.18 979.73 759.85 978.60C760.52 977.47 760.07 977.47 760.40 976.10C760.73 974.73 760.55 975.90 760.85 974.50C761.15 973.10 760.72 973.23 761.30 971.90C761.88 970.57 762.17 970.97 762.60 970.50" stroke="#ff0000" stroke-width="2.0" fill="none" stroke-linecap="butt"/>
</svg>
<pre>Current Data Parameters
NAME     MS<span class="z">O</span><span class="z">O</span>64-sulphate salt (C13<span class="z">O</span>1-76-P)
EXPNO                 1
PROCNO                1

F2 - Acquisition Parameters
Date_          2<span class="z">O</span>251121
Time              1<span class="z">O</span>.37 h
INSTRUM           spect
PROBHD   Z15<span class="z">O</span>453_<span class="z">O</span><span class="z">O</span><span class="z">O</span>4 (
PULPROG            zg3<span class="z">O</span>
TD                65536
SOLVENT            DMSO
NS                   32
DS                    <span class="z">O</span>
SWH            9615.385 Hz
FIDRES         <span class="z">O</span>.293438 Hz
AQ            3.4<span class="z">O</span>7872<span class="z">O</span> sec
RG                51.23
DW               52.<span class="z">O</span><span class="z">O</span><span class="z">O</span> usec
DE                 6.5<span class="z">O</span> usec
TE                3<span class="z">O</span>2.1 K
D1           1.<span class="z">O</span><span class="z">O</span><span class="z">O</span><span class="z">O</span><span class="z">O</span><span class="z">O</span><span class="z">O</span><span class="z">O</span> sec
TD<span class="z">O</span>                   1
SFO1        4<span class="z">O</span><span class="z">O</span>.1332<span class="z">O</span>1<span class="z">O</span> MHz
NUC1                 1H
P<span class="z">O</span>                 3.33 usec
P1                1<span class="z">O</span>.<span class="z">O</span><span class="z">O</span> usec
PLW1         9.7466<span class="z">O</span><span class="z">O</span>15 W

F2 - Processing parameters
SI                65536
SF          4<span class="z">O</span><span class="z">O</span>.129998<span class="z">O</span> MHz
WDW                  EM
SSB                   <span class="z">O</span>
LB                 <span class="z">O</span>.6<span class="z">O</span> Hz
GB                    <span class="z">O</span>
PC                 1.<span class="z">O</span><span class="z">O</span></pre>
</body></html>
